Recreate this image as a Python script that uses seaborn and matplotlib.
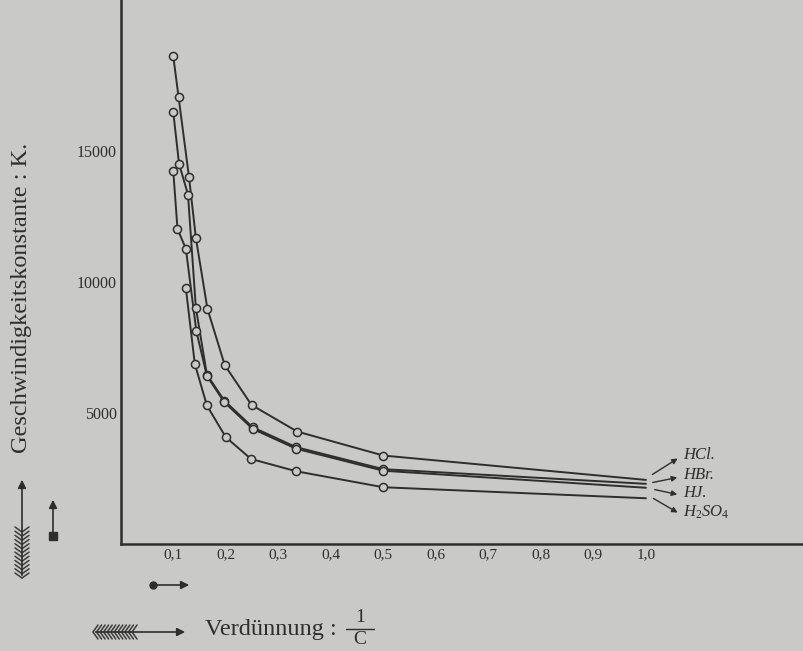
import numpy as np
import pandas as pd
from matplotlib import pyplot as plt
from matplotlib.lines import Line2D
import seaborn as sns

# valores (K contra 1/C)
x_hcl = [0.1, 0.11, 0.13, 0.143, 0.165, 0.198, 0.249, 0.336, 0.5, 1.0]
k_hcl = [18600, 17050, 13980, 11670, 8960, 6810, 5290, 4275, 3360, 2430]

x_hbr = [0.1, 0.111, 0.128, 0.143, 0.164, 0.197, 0.251, 0.334, 0.5, 1.0]
k_hbr = [16460, 14490, 13320, 9000, 6450, 5460, 4440, 3680, 2840, 2280]

x_hj = [0.1, 0.108, 0.124, 0.144, 0.164, 0.197, 0.251, 0.334, 0.5, 1.0]
k_hj = [14210, 12010, 11250, 8100, 6400, 5400, 4380, 3620, 2780, 2130]

x_h2so4 = [0.124, 0.141, 0.164, 0.2, 0.248, 0.334, 0.5, 1.0]
k_h2so4 = [9740, 6860, 5270, 4060, 3230, 2760, 2150, 1730]

series_names = ['HCl.', 'HBr.', 'HJ.', r'H$_2$SO$_4$']
x_ticks = [0.1, 0.2, 0.3, 0.4, 0.5, 0.6, 0.7, 0.8, 0.9, 1.0]
x_tick_labels = ['0,1', '0,2', '0,3', '0,4', '0,5', '0,6', '0,7', '0,8', '0,9', '1,0']
y_ticks = [5000, 10000, 15000]
y_tick_labels = ['5000', '10000', '15000']

bg = '#c9c9c7'
ink = '#2e2e2e'
W, H = 804, 651

sns.set_style('white', {'axes.facecolor': bg, 'figure.facecolor': bg})
plt.rcParams['font.family'] = ['Liberation Serif', 'DejaVu Serif']
plt.rcParams['mathtext.fontset'] = 'custom'
plt.rcParams['mathtext.rm'] = 'Liberation Serif'
plt.rcParams['mathtext.it'] = 'Liberation Serif:italic'


def px(x, y):
    # pixeles de la imagen (origen arriba) -> fraccion de figura
    return x / W, 1 - y / H


fig = plt.figure(figsize=(W / 100, H / 100), dpi=100)
ax = fig.add_axes([0.1502, 0.165, 1 - 0.1502, 0.835])

todas = [(x_hcl, k_hcl), (x_hbr, k_hbr), (x_hj, k_hj), (x_h2so4, k_h2so4)]
for xs, ks in todas:
    sns.lineplot(x=xs, y=ks, ax=ax, color=ink, lw=1.4, sort=False, estimator=None)
    sns.scatterplot(x=xs[:-1], y=ks[:-1], ax=ax, s=34, facecolor=bg,
                    edgecolor=ink, linewidth=1.1, zorder=3)

ax.set_xlim(0, 1.301)
ax.set_ylim(0, 20744)
ax.set_xticks(x_ticks)
ax.set_xticklabels(x_tick_labels, fontsize=11, color=ink)
ax.set_yticks(y_ticks)
ax.set_yticklabels(y_tick_labels, fontsize=11.5, color=ink)
ax.tick_params(direction='in', length=10, width=1.5, color=ink, pad=3)
sns.despine(ax=ax)
for s in ['left', 'bottom']:
    ax.spines[s].set_color(ink)
    ax.spines[s].set_linewidth(1.8)

# etiquetas de las curvas con flechas
txt_pos = [(683, 455), (683, 475), (683, 493), (683, 512)]
arr_start = [(650, 476), (650, 483), (652, 489), (651, 497)]
for nombre, (tx, ty), (sx, sy) in zip(series_names, txt_pos, arr_start):
    fig.text(*px(tx, ty), nombre, fontsize=12, style='italic',
             color=ink, va='center', ha='left')
    fig.add_artist(plt.Annotation('', xy=px(tx - 3, ty + 2), xycoords='figure fraction',
                                  xytext=px(sx, sy), textcoords='figure fraction',
                                  arrowprops=dict(arrowstyle='-|>', color=ink, lw=1.0,
                                                  mutation_scale=8)))

# titulos de los ejes
fig.text(*px(22, 298), 'Geschwindigkeitskonstante : K.', rotation=90, fontsize=17.5,
         color=ink, ha='center', va='center')
fig.text(*px(205, 630), 'Verdünnung :', fontsize=17.5, color=ink, ha='left', va='center')
fig.text(*px(360, 617), '1', fontsize=14, color=ink, ha='center', va='center')
fig.add_artist(Line2D([346 / W, 374 / W], [1 - 629 / H, 1 - 629 / H], color=ink, lw=1.0))
fig.text(*px(360, 639), 'C', fontsize=14, color=ink, ha='center', va='center')


def flecha(x0, y0, x1, y1):
    fig.add_artist(plt.Annotation('', xy=px(x1, y1), xycoords='figure fraction',
                                  xytext=px(x0, y0), textcoords='figure fraction',
                                  arrowprops=dict(arrowstyle='-|>', color=ink, lw=1.2,
                                                  mutation_scale=12)))


def plumas(x0, y0, x1, y1, n=12):
    # plumas de la flecha, dibujadas como espigas
    d = np.array([x1 - x0, y1 - y0], dtype=float)
    largo = np.hypot(*d)
    u = d / largo
    nrm = np.array([-u[1], u[0]])
    for t in np.linspace(0, largo - 5, n):
        p = np.array([x0, y0]) + u * t
        for sg in (1, -1):
            q = p + u * 5 + nrm * 7 * sg
            a, b = px(*p)
            c, e = px(*q)
            fig.add_artist(Line2D([a, c], [b, e], color='#3c3c3c', lw=1.1))


# flecha vertical con plumas a la izquierda
plumas(22, 578, 22, 527)
flecha(22, 578, 22, 477)
# flecha corta con cuadrado
fig.add_artist(Line2D([53 / W], [1 - 536 / H], marker='s', ms=5.5, color=ink))
flecha(53, 536, 53, 497)
# flechas de abajo
fig.add_artist(Line2D([153 / W], [1 - 585 / H], marker='o', ms=5, color=ink))
flecha(153, 585, 192, 585)
plumas(93, 632, 137, 632)
flecha(93, 632, 188, 632)

plt.savefig('out.png', dpi=100, facecolor=bg)
